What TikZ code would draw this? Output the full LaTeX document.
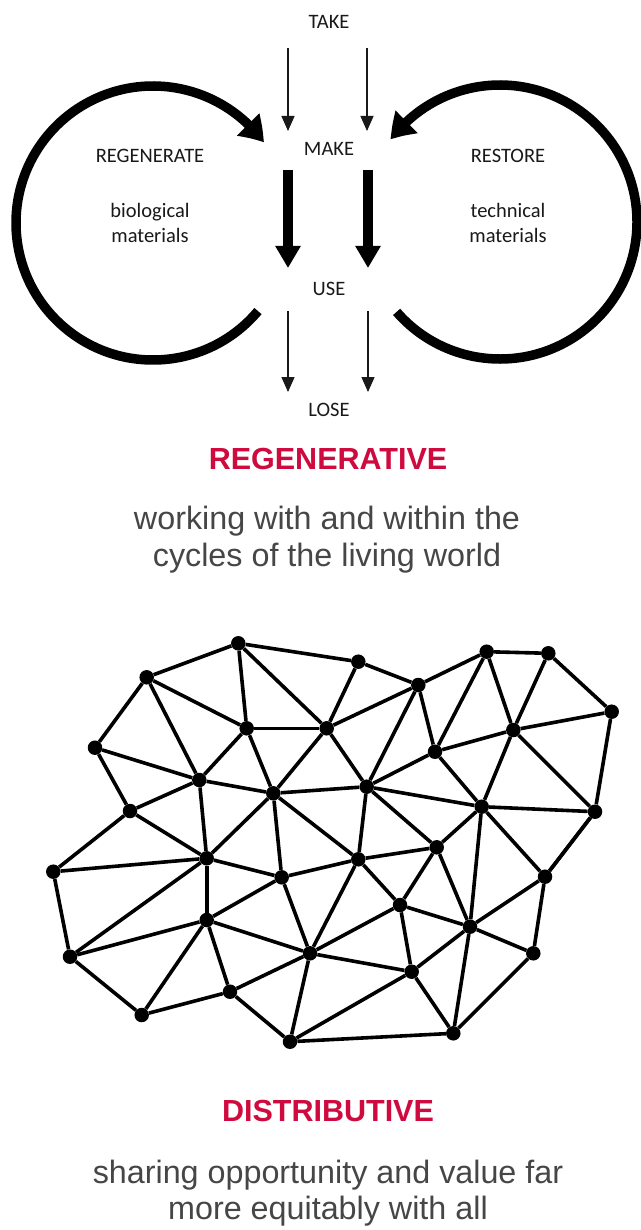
\documentclass[tikz,border=0pt]{standalone}
\usepackage{fontspec}
\setmainfont{Carlito}
\newfontfamily\headfont{Liberation Sans}
\usetikzlibrary{arrows.meta,bending,calc}
\definecolor{headred}{RGB}{206,10,62}
\definecolor{bodygray}{RGB}{70,70,70}
\definecolor{inkgray}{RGB}{25,25,25}
\tikzset{
  lbl/.style={font=\fontsize{20.5}{24}\selectfont, text=inkgray, inner sep=0pt, anchor=base},
  head/.style={font=\headfont\bfseries\fontsize{30.5}{34}\selectfont, text=headred, inner sep=0pt, anchor=base},
  body/.style={font=\headfont\fontsize{32.3}{36}\selectfont, text=bodygray, inner sep=0pt, anchor=base},
  thinarrow/.style={draw=inkgray, line width=1.3pt, -{Triangle[length=15pt,width=13pt]}},
  thickarrow/.style={draw=black, line width=9.5pt, -{Triangle[length=22pt,width=24pt]}},
  cyclearc/.style={draw=black, line width=9.5pt, -{Triangle[length=24pt,width=30pt,bend]}},
  dot/.style={circle, fill=black, minimum size=14.5pt, inner sep=0pt},
  link/.style={draw=black, line width=3.6pt},
}
\begin{document}
\begin{tikzpicture}[x=1pt,y=-1pt]
\useasboundingbox (0,0) rectangle (640,1230);
\fill[white] (0,0) rectangle (640,1230);

% ---------- cycle diagram ----------
\node[lbl] (take) at (329,29) {TAKE};
\node[lbl] (make) at (329,156) {MAKE};
\node[lbl] (use) at (329,296) {USE};
\node[lbl] (lose) at (329,416) {LOSE};
\node[lbl] (regen) at (150,163) {REGENERATE};
\node[lbl] (bio) at (150,218) {biological};
\node[lbl] (bmat) at (150,243) {materials};
\node[lbl] (restore) at (508,163) {RESTORE};
\node[lbl] (tech) at (508,218) {technical};
\node[lbl] (tmat) at (508,243) {materials};

\coordinate (t1s) at (288,48);  \coordinate (t1e) at (288,131);
\coordinate (t2s) at (367,48);  \coordinate (t2e) at (367,131);
\coordinate (m1s) at (288,170); \coordinate (m1e) at (288,268);
\coordinate (m2s) at (368,170); \coordinate (m2e) at (368,268);
\coordinate (u1s) at (288,311); \coordinate (u1e) at (288,392);
\coordinate (u2s) at (368,311); \coordinate (u2e) at (368,392);
\draw[thinarrow] (t1s) -- (t1e);
\draw[thinarrow] (t2s) -- (t2e);
\draw[thickarrow] (m1s) -- (m1e);
\draw[thickarrow] (m2s) -- (m2e);
\draw[thinarrow] (u1s) -- (u1e);
\draw[thinarrow] (u2s) -- (u2e);

\coordinate (lc) at (153,223);
\coordinate (rc) at (500,222);
\draw[cyclearc] ($(lc)+(40:137)$) arc[start angle=40, end angle=324, radius=137];
\draw[cyclearc] ($(rc)+(139:137)$) arc[start angle=139, end angle=-143, radius=137];

% ---------- texts ----------
\node[head] (regtitle) at (328,469) {REGENERATIVE};
\node[body] (regl1) at (327,529) {working with and within the};
\node[body] (regl2) at (327,566) {cycles of the living world};
\node[head] (distitle) at (328,1121.5) {DISTRIBUTIVE};
\node[body] (disl1) at (328,1183) {sharing opportunity and value far};
\node[body] (disl2) at (328,1219) {more equitably with all};

% ---------- network ----------
\node[dot] (A) at (238.3,643.3) {};
\node[dot] (B) at (146.7,677.3) {};
\node[dot] (C) at (95,747.7) {};
\node[dot] (D) at (130,811) {};
\node[dot] (E) at (53.3,871.7) {};
\node[dot] (F) at (70,956.7) {};
\node[dot] (G) at (141.7,1015) {};
\node[dot] (H) at (230,991.7) {};
\node[dot] (I) at (290,1041.7) {};
\node[dot] (J) at (453.3,1033.3) {};
\node[dot] (K) at (533.3,953.3) {};
\node[dot] (L) at (545,876.7) {};
\node[dot] (M) at (595,811.7) {};
\node[dot] (N) at (611.7,711.7) {};
\node[dot] (O) at (548.3,653.3) {};
\node[dot] (P) at (486.7,651.7) {};
\node[dot] (Q) at (418.3,685) {};
\node[dot] (R) at (358.3,661.7) {};
\node[dot] (S) at (246.7,728.3) {};
\node[dot] (T) at (326.7,728.3) {};
\node[dot] (U) at (199.3,780) {};
\node[dot] (V) at (273.3,793.3) {};
\node[dot] (W) at (366.7,786.7) {};
\node[dot] (X) at (435,751.7) {};
\node[dot] (Y) at (513.3,730) {};
\node[dot] (Z) at (481.7,806.7) {};
\node[dot] (AA) at (206.7,858.3) {};
\node[dot] (AB) at (281.7,877.3) {};
\node[dot] (AC) at (358.3,859.3) {};
\node[dot] (AD) at (436.7,847.3) {};
\node[dot] (AE) at (400,905) {};
\node[dot] (AF) at (470,926.7) {};
\node[dot] (AG) at (206.7,920) {};
\node[dot] (AH) at (310,953.3) {};
\node[dot] (AI) at (411.7,971.7) {};

\foreach \a/\b in {A/B,B/C,C/D,D/E,E/F,F/G,G/H,H/I,I/J,J/K,K/L,L/M,M/N,N/O,O/P,P/Q,Q/R,R/A,
  A/S,A/T,B/S,B/U,C/U,D/U,D/AA,S/U,S/T,S/V,U/V,U/AA,T/R,T/Q,T/W,T/V,
  V/W,V/AA,V/AB,V/AC,Q/X,Q/W,P/X,P/Y,O/Y,N/Y,Y/X,Y/Z,Y/M,X/Z,X/W,
  Z/M,Z/W,Z/AD,Z/AF,Z/L,M/L,E/AA,F/AA,F/AG,AG/AA,AG/AB,AG/AH,AG/G,AG/H,
  AA/AB,AB/AC,AB/AH,H/AH,AH/I,AH/AE,AH/AC,AH/AI,AC/AD,AC/AE,AC/W,
  AD/AE,AD/AF,AD/W,AE/AF,AE/AI,AF/L,AF/K,AF/AI,AF/J,AI/J,AI/I}
  \draw[link] (\a) -- (\b);
\end{tikzpicture}
\end{document}
